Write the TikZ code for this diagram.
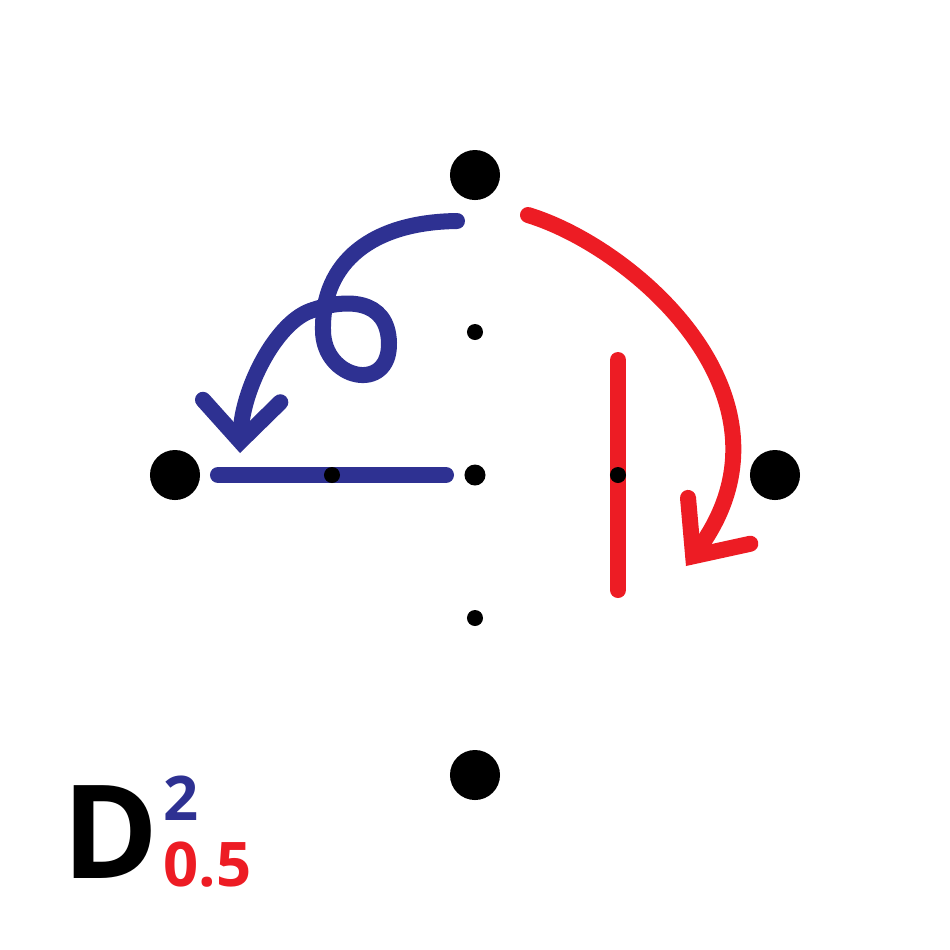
\documentclass[tikz,border=0pt]{standalone}
\usepackage{fontspec}
\setsansfont{Open Sans}
\usetikzlibrary{arrows.meta}

\definecolor{dblue}{HTML}{2E3192}
\definecolor{dred}{HTML}{ED1C24}

\begin{document}
\begin{tikzpicture}[
    x=0.01cm, y=-0.01cm,
    bigdot/.style={circle, fill=black, inner sep=0pt, minimum size=0.5cm},
    smalldot/.style={circle, fill=black, inner sep=0pt, minimum size=0.16cm},
    middot/.style={circle, fill=black, inner sep=0pt, minimum size=0.21cm},
    bar/.style={line width=0.16cm, line cap=round},
    curvearr/.style={line width=0.16cm, line cap=round},
    numlabel/.style={anchor=base west, inner sep=0pt, font=\sffamily\bfseries\fontsize{17.5}{17.5}\selectfont},
]
\useasboundingbox (0,0) rectangle (950,950);

% === Grid points ===
\node[bigdot] (top) at (475,175) {};
\node[bigdot] (left) at (175,475) {};
\node[bigdot] (right) at (775,475) {};
\node[bigdot] (bottom) at (475,775) {};
\node[middot] (center) at (475,475) {};
\node[smalldot] (upper) at (475,332) {};
\node[smalldot] (lower) at (475,618) {};

% Bars (drawn under their midpoints)
\coordinate (bluestart) at (218,475);
\coordinate (blueend) at (446,475);
\coordinate (redstart) at (618,360);
\coordinate (redend) at (618,590);
\draw[bar, dblue] (bluestart) -- (blueend);
\draw[bar, dred] (redstart) -- (redend);
\node[smalldot] (bluemid) at (332,475) {};
\node[smalldot] (redmid) at (618,475) {};

% Blue curve with a loop
\coordinate (bluefrom) at (457,221);
\coordinate (blueto) at (240,453);
\draw[curvearr, dblue, -{Straight Barb[length=11.5pt, width=22pt, line cap=round, line join=miter]}]
    (bluefrom) .. controls (372,222) and (322,262) .. (323,330)
    .. controls (323,380) and (390,394) .. (389,343)
    .. controls (388,298) and (345,298) .. (310,311)
    .. controls (275,324) and (242,390) .. (blueto);

% Red quarter turn
\coordinate (redfrom) at (528,215);
\coordinate (redto) at (686,566);
\draw[curvearr, dred, -{Straight Barb[length=12.5pt, width=22pt, line cap=round, line join=miter]}]
    (redfrom) .. controls (636,248) and (808,400) .. (redto);

% Label
\node[anchor=base west, inner sep=0pt, font=\sffamily\bfseries\fontsize{37}{37}\selectfont] (dlabel) at (62,878) {D\kern-8pt};
\node[numlabel, text=dblue] (suplabel) at (163,820) {2};
\node[numlabel, text=dred] (sublabel) at (163,886) {0.5};

\end{tikzpicture}
\end{document}
